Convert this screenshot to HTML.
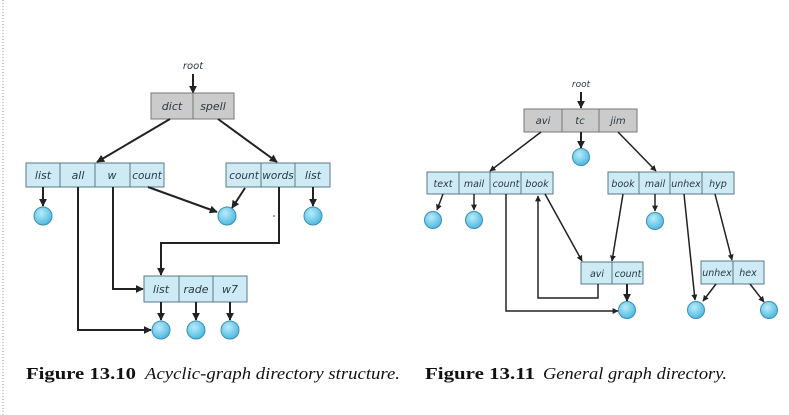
<!DOCTYPE html>
<html><head><meta charset="utf-8"><style>
html,body{margin:0;padding:0;background:#fff;width:789px;height:415px;overflow:hidden}
svg{display:block}
.t{font-family:"DejaVu Sans","Liberation Sans",sans-serif;font-style:italic;fill:#2a3a44;text-anchor:middle}
.b{fill:#cdeaf5;stroke:#5a7a88;stroke-width:1}
.g{fill:#cbcbcb;stroke:#777;stroke-width:1}
.d{stroke:#5a7a88;stroke-width:1}
.dg{stroke:#777;stroke-width:1}
.l{stroke:#222;stroke-width:2;fill:none}
.cap{font-family:"Liberation Serif",serif;font-size:17px;fill:#111}
</style></head><body>
<svg width="789" height="415" viewBox="0 0 789 415" xmlns="http://www.w3.org/2000/svg">
<defs>
<marker id="a" viewBox="0 0 10 10" refX="9" refY="5" markerWidth="4" markerHeight="4" orient="auto-start-reverse"><path d="M0,0L10,5L0,10z" fill="#222"/></marker>
<radialGradient id="c" cx="40%" cy="35%" r="65%"><stop offset="0" stop-color="#b9ecfb"/><stop offset="1" stop-color="#4fb9e0"/></radialGradient>
</defs>
<line x1="3" y1="0" x2="3" y2="415" stroke="#8a9ab0" stroke-width="1" stroke-dasharray="1,2"/>

<!-- LEFT FIGURE -->
<text x="193" y="69" class="t" font-size="10">root</text>
<line x1="193" y1="74" x2="193" y2="93" class="l" marker-end="url(#a)"/>
<rect x="151" y="93" width="83" height="26" class="g"/><line x1="193" y1="93" x2="193" y2="119" class="dg"/>
<text x="172" y="110" class="t" font-size="11">dict</text><text x="213" y="110" class="t" font-size="11">spell</text>

<rect x="26" y="163" width="138" height="24" class="b"/>
<line x1="60" y1="163" x2="60" y2="187" class="d"/><line x1="95" y1="163" x2="95" y2="187" class="d"/><line x1="130" y1="163" x2="130" y2="187" class="d"/>
<text x="43" y="179" class="t" font-size="11">list</text><text x="78" y="179" class="t" font-size="11">all</text><text x="112" y="179" class="t" font-size="11">w</text><text x="147" y="179" class="t" font-size="10.5">count</text>

<rect x="226" y="163" width="104" height="24" class="b"/>
<line x1="261" y1="163" x2="261" y2="187" class="d"/><line x1="295" y1="163" x2="295" y2="187" class="d"/>
<text x="244" y="179" class="t" font-size="10.5">count</text><text x="278" y="179" class="t" font-size="10.5">words</text><text x="313" y="179" class="t" font-size="11">list</text>

<rect x="144" y="276" width="103" height="26" class="b"/>
<line x1="179" y1="276" x2="179" y2="302" class="d"/><line x1="213" y1="276" x2="213" y2="302" class="d"/>
<text x="161" y="293" class="t" font-size="11">list</text><text x="196" y="293" class="t" font-size="11">rade</text><text x="230" y="293" class="t" font-size="11">w7</text>

<line x1="170" y1="119" x2="97" y2="162" class="l" marker-end="url(#a)"/>
<line x1="218" y1="119" x2="277" y2="162" class="l" marker-end="url(#a)"/>
<line x1="43" y1="187" x2="43" y2="206" class="l" marker-end="url(#a)"/>
<line x1="148" y1="187" x2="217" y2="212" class="l" marker-end="url(#a)"/>
<line x1="245" y1="188" x2="232" y2="208" class="l" marker-end="url(#a)"/>
<line x1="313" y1="187" x2="313" y2="206" class="l" marker-end="url(#a)"/>
<polyline points="279,187 279,243 161,243 161,275" class="l" marker-end="url(#a)"/>
<polyline points="113,187 113,289 143,289" class="l" marker-end="url(#a)"/>
<polyline points="78,187 78,330 151,330" class="l" marker-end="url(#a)"/>
<line x1="161" y1="302" x2="161" y2="320" class="l" marker-end="url(#a)"/>
<line x1="196" y1="302" x2="196" y2="320" class="l" marker-end="url(#a)"/>
<line x1="230" y1="302" x2="230" y2="320" class="l" marker-end="url(#a)"/>
<circle cx="274" cy="216" r="0.8" fill="#333"/>
<g fill="url(#c)" stroke="#3a8fb5" stroke-width="1">
<circle cx="43" cy="216" r="9"/><circle cx="227" cy="216" r="9"/><circle cx="313" cy="216" r="9"/>
<circle cx="161" cy="330" r="9"/><circle cx="196" cy="330" r="9"/><circle cx="230" cy="330" r="9"/>
</g>

<!-- RIGHT FIGURE -->
<text x="581" y="87" class="t" font-size="9">root</text>
<line x1="581" y1="92" x2="581" y2="108" class="l" marker-end="url(#a)"/>
<rect x="524" y="109" width="113" height="23" class="g"/>
<line x1="562" y1="109" x2="562" y2="132" class="dg"/><line x1="599" y1="109" x2="599" y2="132" class="dg"/>
<text x="543" y="124" class="t" font-size="10">avi</text><text x="580" y="124" class="t" font-size="10">tc</text><text x="618" y="124" class="t" font-size="10">jim</text>
<line x1="581" y1="132" x2="581" y2="148" class="l" marker-end="url(#a)"/>

<rect x="427" y="172" width="126" height="22" class="b"/>
<line x1="459" y1="172" x2="459" y2="194" class="d"/><line x1="490" y1="172" x2="490" y2="194" class="d"/><line x1="521" y1="172" x2="521" y2="194" class="d"/>
<text x="443" y="187" class="t" font-size="9.5">text</text><text x="474" y="187" class="t" font-size="9.5">mail</text><text x="506" y="187" class="t" font-size="9.5">count</text><text x="537" y="187" class="t" font-size="9.5">book</text>

<rect x="608" y="172" width="126" height="22" class="b"/>
<line x1="639" y1="172" x2="639" y2="194" class="d"/><line x1="670" y1="172" x2="670" y2="194" class="d"/><line x1="702" y1="172" x2="702" y2="194" class="d"/>
<text x="623" y="187" class="t" font-size="9.5">book</text><text x="655" y="187" class="t" font-size="9.5">mail</text><text x="686" y="187" class="t" font-size="9.5">unhex</text><text x="718" y="187" class="t" font-size="9.5">hyp</text>

<rect x="581" y="262" width="62" height="22" class="b"/><line x1="612" y1="262" x2="612" y2="284" class="d"/>
<text x="597" y="277" class="t" font-size="9.5">avi</text><text x="628" y="277" class="t" font-size="9.5">count</text>

<rect x="701" y="261" width="63" height="23" class="b"/><line x1="733" y1="261" x2="733" y2="284" class="d"/>
<text x="717" y="276" class="t" font-size="9.5">unhex</text><text x="748" y="276" class="t" font-size="9.5">hex</text>

<line x1="541" y1="132" x2="490" y2="171" class="l" style="stroke-width:1.5" marker-end="url(#a)"/>
<line x1="618" y1="132" x2="656" y2="171" class="l" style="stroke-width:1.5" marker-end="url(#a)"/>
<line x1="443" y1="194" x2="437" y2="210" class="l" style="stroke-width:1.5" marker-end="url(#a)"/>
<line x1="474" y1="194" x2="474" y2="210" class="l" style="stroke-width:1.5" marker-end="url(#a)"/>
<line x1="655" y1="194" x2="655" y2="211" class="l" style="stroke-width:1.5" marker-end="url(#a)"/>
<line x1="545" y1="194" x2="582" y2="261" class="l" style="stroke-width:1.5" marker-end="url(#a)"/>
<line x1="623" y1="194" x2="612" y2="261" class="l" style="stroke-width:1.5" marker-end="url(#a)"/>
<polyline points="598,284 598,298 538,298 538,196" class="l" style="stroke-width:1.5" marker-end="url(#a)"/>
<polyline points="506,194 506,311 618,311" class="l" style="stroke-width:1.5" marker-end="url(#a)"/>
<line x1="627" y1="284" x2="627" y2="301" class="l" marker-end="url(#a)"/>
<line x1="684" y1="194" x2="695" y2="300" class="l" style="stroke-width:1.5" marker-end="url(#a)"/>
<line x1="715" y1="194" x2="732" y2="260" class="l" style="stroke-width:1.5" marker-end="url(#a)"/>
<line x1="716" y1="284" x2="703" y2="301" class="l" style="stroke-width:1.5" marker-end="url(#a)"/>
<line x1="750" y1="284" x2="764" y2="302" class="l" style="stroke-width:1.5" marker-end="url(#a)"/>
<g fill="url(#c)" stroke="#3a8fb5" stroke-width="1">
<circle cx="581" cy="157" r="8.5"/>
<circle cx="433" cy="220" r="8.5"/><circle cx="474" cy="220" r="8.5"/><circle cx="655" cy="221" r="8.5"/>
<circle cx="627" cy="310" r="8.5"/><circle cx="696" cy="310" r="8.5"/><circle cx="769" cy="310" r="8.5"/>
</g>

<!-- captions -->
<text x="26" y="379" class="cap" font-weight="bold" textLength="110" lengthAdjust="spacingAndGlyphs">Figure 13.10</text>
<text x="145" y="379" class="cap" font-style="italic" textLength="255" lengthAdjust="spacingAndGlyphs">Acyclic-graph directory structure.</text>
<text x="425" y="379" class="cap" font-weight="bold" textLength="110" lengthAdjust="spacingAndGlyphs">Figure 13.11</text>
<text x="543" y="379" class="cap" font-style="italic" textLength="184" lengthAdjust="spacingAndGlyphs">General graph directory.</text>
</svg>
</body></html>
